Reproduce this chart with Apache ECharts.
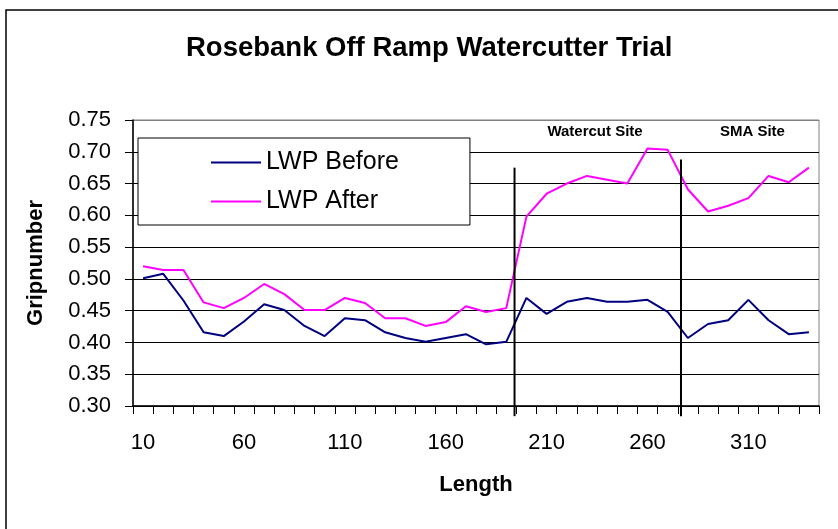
<!DOCTYPE html>
<html>
<head>
<meta charset="utf-8">
<script src="https://cdn.jsdelivr.net/npm/echarts@6/dist/echarts.min.js"></script>
<style>
  html, body { margin: 0; padding: 0; background: #fff; }
  #grafico { width: 838px; height: 529px; }
</style>
</head>
<body>
<div id="grafico"></div>
<script>
// Longitudes (categorias del eje x)
const longitudes = [10, 20, 30, 40, 50, 60, 70, 80, 90, 100, 110, 120, 130, 140, 150, 160, 170,
  180, 190, 200, 210, 220, 230, 240, 250, 260, 270, 280, 290, 300, 310, 320, 330, 340];

const lwpAntes = [0.501, 0.508, 0.466, 0.416, 0.410, 0.433, 0.460, 0.451, 0.426, 0.410, 0.438,
  0.435, 0.416, 0.407, 0.401, 0.407, 0.413, 0.397, 0.401, 0.470, 0.445, 0.464, 0.470, 0.464,
  0.464, 0.467, 0.448, 0.407, 0.429, 0.435, 0.467, 0.435, 0.413, 0.416];

const lwpDespues = [0.520, 0.514, 0.514, 0.463, 0.454, 0.470, 0.492, 0.476, 0.451, 0.451, 0.470,
  0.462, 0.438, 0.438, 0.426, 0.432, 0.457, 0.448, 0.454, 0.598, 0.634, 0.650, 0.662, 0.656,
  0.650, 0.705, 0.703, 0.641, 0.606, 0.615, 0.627, 0.662, 0.652, 0.675];

const nombresSeries = ['LWP Before', 'LWP After'];
const etiquetasSitio = ['Watercut Site', 'SMA Site'];

const fuente = 'Liberation Sans, Arial, sans-serif';

const grafico = echarts.init(document.getElementById('grafico'));

// colores de las lineas de division: la superior en gris como el borde
const coloresDivision = ['#000', '#000', '#000', '#000', '#000', '#000', '#000', '#000', '#000', '#808080'];

const opciones = {
  animation: false,
  backgroundColor: '#fff',
  title: {
    text: 'Rosebank Off Ramp Watercutter Trial',
    left: 186,
    top: 34,
    padding: 0,
    textStyle: { fontFamily: fuente, fontSize: 27.5, fontWeight: 'bold', color: '#000' }
  },
  legend: {
    data: nombresSeries,
    orient: 'vertical',
    left: 138,
    top: 138,
    padding: [12, 71, 11, 73],
    itemGap: 14,
    itemWidth: 50,
    itemHeight: 2,
    icon: 'rect',
    backgroundColor: '#fff',
    borderColor: '#000',
    borderWidth: 1,
    borderRadius: 0,
    textStyle: { fontFamily: fuente, fontSize: 25, color: '#000', lineHeight: 25 }
  },
  grid: {
    left: 133,
    top: 120,
    right: 19,
    bottom: 123,
    show: true,
    borderColor: '#808080',
    borderWidth: 1
  },
  xAxis: {
    type: 'category',
    data: longitudes,
    boundaryGap: true,
    name: 'Length',
    nameLocation: 'middle',
    nameGap: 68,
    nameTextStyle: { fontFamily: fuente, fontSize: 22, fontWeight: 'bold', color: '#000' },
    axisLine: { lineStyle: { color: '#000', width: 1.5 } },
    axisTick: { show: true, interval: 0, length: 8, lineStyle: { color: '#000' } },
    axisLabel: {
      interval: 4,
      margin: 26,
      fontFamily: fuente,
      fontSize: 22,
      color: '#000'
    },
    splitLine: { show: false }
  },
  yAxis: {
    type: 'value',
    min: 0.3,
    max: 0.75,
    interval: 0.05,
    name: 'Gripnumber',
    nameLocation: 'middle',
    nameGap: 86,
    nameTextStyle: { fontFamily: fuente, fontSize: 22, fontWeight: 'bold', color: '#000' },
    axisLine: { show: true, lineStyle: { color: '#000', width: 1.5 } },
    axisTick: { show: true, length: 8, lineStyle: { color: '#000' } },
    axisLabel: {
      margin: 22,
      fontFamily: fuente,
      fontSize: 22,
      color: '#000',
      formatter: valor => valor.toFixed(2)
    },
    splitLine: { show: true, lineStyle: { color: coloresDivision, width: 1 } }
  },
  series: [
    {
      name: nombresSeries[0],
      type: 'line',
      data: lwpAntes,
      symbol: 'none',
      color: '#000080',
      lineStyle: { color: '#000080', width: 2 }
    },
    {
      name: nombresSeries[1],
      type: 'line',
      data: lwpDespues,
      symbol: 'none',
      color: '#ff00ff',
      lineStyle: { color: '#ff00ff', width: 2 }
    }
  ]
};

grafico.setOption(opciones);

// posicion en pixeles para un indice de categoria fraccionario
const aPixel = (indice, valor) => {
  const i0 = Math.floor(indice);
  const a = grafico.convertToPixel({ gridIndex: 0 }, [i0, valor]);
  const b = grafico.convertToPixel({ gridIndex: 0 }, [i0 + 1, valor]);
  return [a[0] + (b[0] - a[0]) * (indice - i0), a[1]];
};

// divisores dibujados a mano entre los tramos
const divisores = [
  { indice: 18.41, arriba: 0.675 },
  { indice: 26.66, arriba: 0.688 }
];
const posicionesSitio = [22.4, 30.2];

const elementos = [
  {
    type: 'rect',
    shape: { x: 6, y: 10, width: 900, height: 600 },
    style: { fill: 'none', stroke: '#000', lineWidth: 1.5 },
    silent: true,
    z: 100
  }
];

divisores.forEach(d => {
  const p1 = aPixel(d.indice, d.arriba);
  const p2 = aPixel(d.indice, 0.284);
  elementos.push({
    type: 'line',
    shape: { x1: p1[0], y1: p1[1], x2: p2[0], y2: p2[1] },
    style: { stroke: '#000', lineWidth: 2 },
    silent: true,
    z: 100
  });
});

etiquetasSitio.forEach((texto, i) => {
  const p = aPixel(posicionesSitio[i], 0.731);
  elementos.push({
    type: 'text',
    x: p[0],
    y: p[1],
    style: {
      text: texto,
      align: 'center',
      verticalAlign: 'middle',
      fontFamily: fuente,
      fontSize: 15,
      fontWeight: 'bold',
      fill: '#000'
    },
    silent: true,
    z: 100
  });
});

grafico.setOption({ graphic: elementos });
</script>
</body>
</html>
